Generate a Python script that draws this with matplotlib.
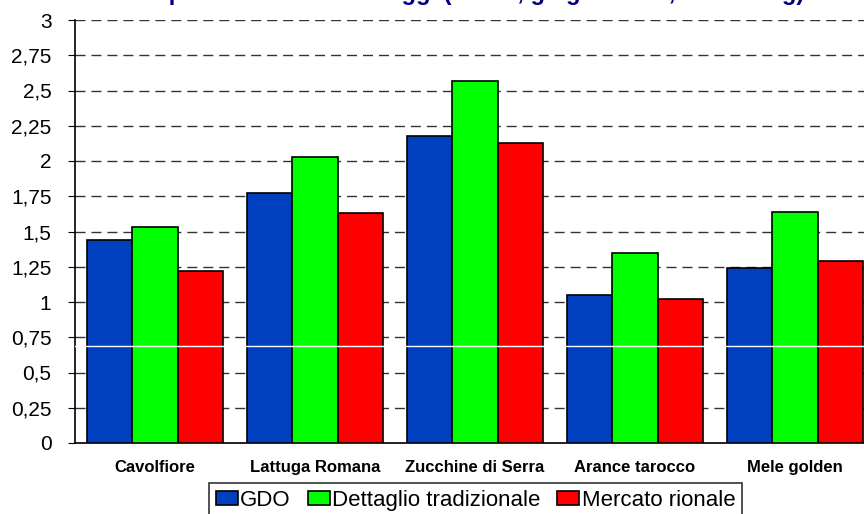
import matplotlib.pyplot as plt
import numpy as np

plt.rcParams['font.family'] = ['Liberation Sans', 'DejaVu Sans']

categories = ['Cavolfiore', 'Lattuga Romana', 'Zucchine di Serra', 'Arance tarocco', 'Mele golden']
gdo = [1.44, 1.77, 2.18, 1.05, 1.24]
dettaglio = [1.53, 2.03, 2.57, 1.35, 1.64]
mercato = [1.22, 1.63, 2.13, 1.02, 1.29]
series_names = ['GDO', 'Dettaglio tradizionale', 'Mercato rionale']
colors = ['#0040BF', '#00FF00', '#FF0000']
yticks = np.arange(0, 3.01, 0.25)
ytick_labels = ['0', '0,25', '0,5', '0,75', '1', '1,25', '1,5', '1,75', '2', '2,25', '2,5', '2,75', '3']

fig = plt.figure(figsize=(8.64, 5.14), dpi=100)
# plot area runs a little past the right edge of the picture, as in the original
ax = fig.add_axes([75 / 864, 1 - 443 / 514, 800 / 864, 423 / 514])

x = np.arange(len(categories))
w = 0.283
for i, (vals, name, c) in enumerate(zip([gdo, dettaglio, mercato], series_names, colors)):
    ax.bar(x + (i - 1) * w, vals, w, color=c, edgecolor='black', linewidth=1.2,
           label=name, zorder=3)

# thin white line crossing the bars, as in the original
ax.axhline(0.69, color='white', linewidth=1, zorder=4)

ax.set_ylim(0, 3)
ax.set_xlim(-0.5, len(categories) - 0.5)
ax.set_yticks(yticks)
ax.set_yticklabels(ytick_labels, fontsize=15)
ax.set_xticks(x)
ax.set_xticklabels(categories, fontsize=12, fontweight='bold')
ax.tick_params(axis='x', length=0, pad=12)
ax.tick_params(axis='y', length=5, direction='out', pad=12)
ax.yaxis.grid(True, color='#333333', linestyle=(0, (7.2, 4.3)), linewidth=1, zorder=0)
for s in ['top', 'right']:
    ax.spines[s].set_visible(False)
ax.spines['left'].set_linewidth(1.2)
ax.spines['bottom'].set_linewidth(1.2)

# title sits above the picture, only its lowest part shows, as in the original
fig.text(0.493, 1.0, 'Confronto prezzi di frutta e ortaggi (Roma, giugno 2008, Euro al kg)',
         ha='center', va='baseline', fontsize=17, fontweight='bold', color='#000080')

leg = ax.legend(loc='upper center', bbox_to_anchor=(0.5006, -0.0946), ncol=3, fontsize=16,
                frameon=True, fancybox=False, edgecolor='black', handlelength=1.0,
                handleheight=0.62, handletextpad=0.1, columnspacing=0.75, borderpad=0.3,
                borderaxespad=0)
leg.get_frame().set_linewidth(1.2)

fig.savefig('out.png', dpi=100)
